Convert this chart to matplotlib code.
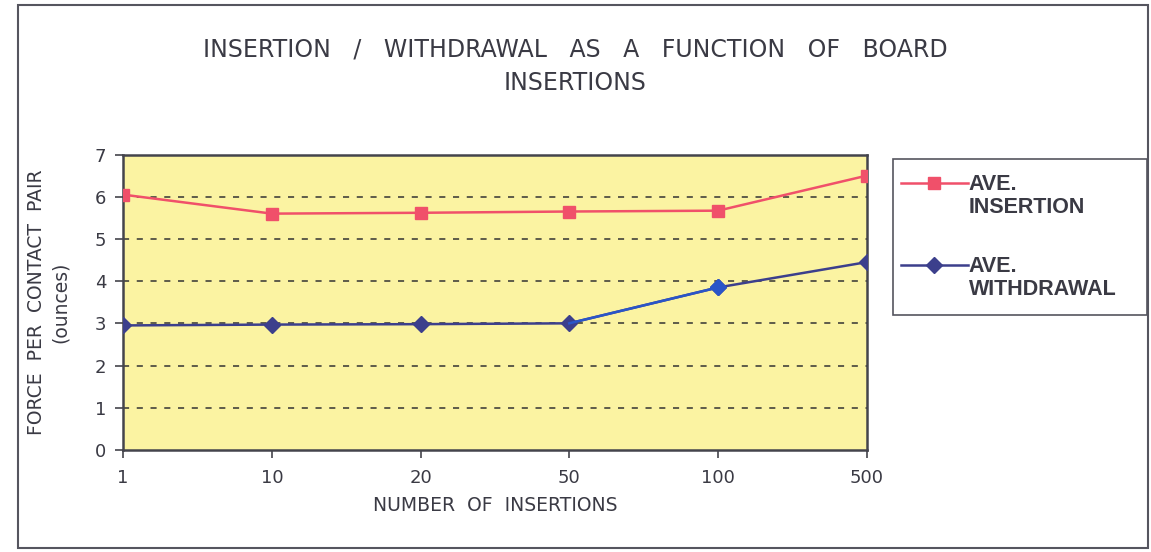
import matplotlib.pyplot as plt
from matplotlib.patches import Rectangle
from matplotlib.legend_handler import HandlerLine2D
from matplotlib.transforms import Affine2D

categories = ["1", "10", "20", "50", "100", "500"]
insertion = [6.05, 5.6, 5.62, 5.65, 5.67, 6.5]
withdrawal = [2.95, 2.97, 2.98, 3.0, 3.85, 4.45]
yticks = [0, 1, 2, 3, 4, 5, 6, 7]

red = "#f0506a"
navy = "#3c3f8c"
bright = "#2a55c8"
text_c = "#3a3a44"


class TopLineHandler(HandlerLine2D):
    # put the legend symbol next to the first line of a two-line label
    def create_artists(self, legend, orig_handle, xdescent, ydescent, width, height,
                       fontsize, trans):
        trans = Affine2D().translate(0, 0.62 * fontsize) + trans
        return super().create_artists(legend, orig_handle, xdescent, ydescent, width,
                                      height, fontsize, trans)


fig = plt.figure(figsize=(11.51, 5.52), dpi=100)
fig.patch.set_facecolor("white")
fig.patches.append(Rectangle((0.016, 0.008), 0.981, 0.983, transform=fig.transFigure,
                             fill=False, edgecolor="#55555f", linewidth=1.5))

ax = fig.add_axes([0.107, 0.185, 0.646, 0.535])
ax.set_facecolor("#fbf3a2")
x = list(range(len(categories)))

ax.plot(x, insertion, color=red, lw=1.8, marker="s", ms=9, label="AVE.\nINSERTION", zorder=3)
ax.plot(x, withdrawal, color=navy, lw=1.8, marker="D", ms=8, label="AVE.\nWITHDRAWAL", zorder=3)
# scan shows the 50 -> 100 stretch in a brighter blue
ax.plot(x[3:5], withdrawal[3:5], color=bright, lw=1.8, zorder=3)
ax.plot(x[4], withdrawal[4], color=bright, marker="D", ms=8, zorder=4)

ax.set_xlim(0, len(categories) - 1)
ax.set_ylim(0, 7)
ax.set_yticks(yticks)
ax.set_xticks(x)
ax.set_xticklabels(categories)
for yv in yticks[1:-1]:
    ax.axhline(yv, color="#333333", lw=1.1, ls=(0, (4, 5)), zorder=1)

for s in ax.spines.values():
    s.set_color("#44444c")
    s.set_linewidth(1.8)
ax.tick_params(axis="both", colors="#44444c", labelcolor=text_c, labelsize=13,
               length=6, width=1.2, direction="out")
ax.tick_params(axis="x", pad=8)
ax.tick_params(axis="y", pad=6)

ax.set_xlabel("NUMBER  OF  INSERTIONS", fontsize=13.5, color=text_c, labelpad=6)
ax.set_ylabel("FORCE  PER  CONTACT  PAIR\n(ounces)", fontsize=13.5, color=text_c,
              labelpad=18, linespacing=1.35)

fig.text(0.5, 0.88, "INSERTION   /   WITHDRAWAL   AS   A   FUNCTION   OF   BOARD\nINSERTIONS",
         ha="center", va="center", fontsize=17, color=text_c, linespacing=1.5)

# legend frame drawn separately so it can match the boxed area
fig.patches.append(Rectangle((893 / 1151, 1 - 315 / 552), 254 / 1151, 156 / 552,
                             transform=fig.transFigure, fill=False,
                             edgecolor="#55555f", linewidth=1.2))
leg = ax.legend(loc="upper left", bbox_to_anchor=(890 / 1151, 1 - 163 / 552),
                bbox_transform=fig.transFigure, frameon=False,
                borderpad=0.0, labelspacing=1.75, handlelength=3.1,
                handletextpad=0.05, handler_map={plt.Line2D: TopLineHandler()},
                prop={"family": "Liberation Sans", "weight": "bold", "size": 15.5})
for t in leg.get_texts():
    t.set_color(text_c)
    t.set_linespacing(1.15)

fig.savefig("out.png", dpi=100)
